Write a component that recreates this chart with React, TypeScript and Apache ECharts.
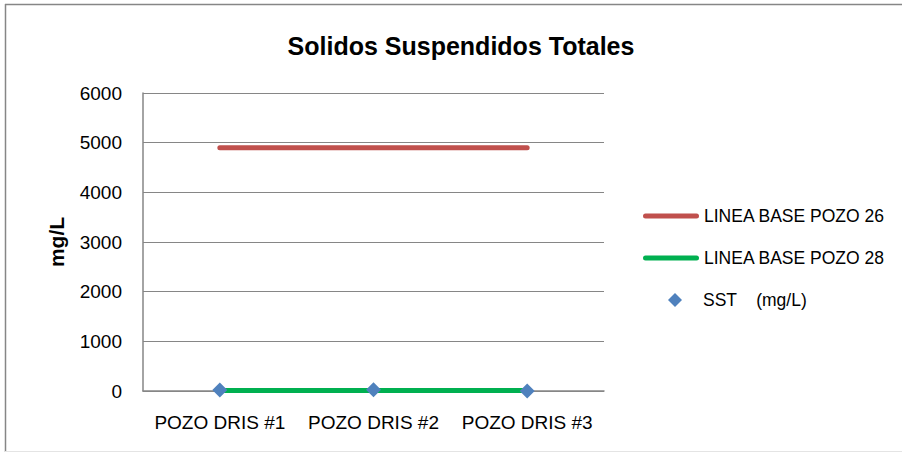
import React, { useEffect, useRef } from "react";
import * as echarts from "echarts";

const categories = ["POZO DRIS #1", "POZO DRIS #2", "POZO DRIS #3"];
const base26 = [4900, 4900, 4900];
const base28 = [10, 10, 10];
const sst = [20, 25, 2];
const yTicks = { min: 0, max: 6000, interval: 1000 };

const FONT = "'Liberation Sans', Arial, sans-serif";
const GRAY = "#868686";
const lineIcon = "path://M2.5,0 H53.5 A2.5,2.5 0 0 1 53.5,5 H2.5 A2.5,2.5 0 0 1 2.5,0 Z";

export default function App() {
  const ref = useRef<HTMLDivElement>(null);
  useEffect(() => {
    document.body.style.margin = "0";
    const chart = echarts.init(ref.current!, null, { renderer: "svg" });
    const legendBase = {
      orient: "vertical",
      padding: 0,
      itemWidth: 56,
      itemGap: 0,
      textStyle: { fontFamily: FONT, fontSize: 17.5, color: "#000", lineHeight: 20 },
    };
    chart.setOption({
      animation: false,
      backgroundColor: "#fff",
      title: {
        text: "Solidos Suspendidos Totales",
        left: 456,
        top: 28,
        textAlign: "center",
        textStyle: { fontFamily: FONT, fontSize: 25, fontWeight: "bold", color: "#000" },
      },
      graphic: [
        { type: "line", shape: { x1: 5.5, y1: 4, x2: 5.5, y2: 452 }, style: { stroke: GRAY, lineWidth: 1.5 } },
        { type: "line", shape: { x1: 5, y1: 4.5, x2: 902, y2: 4.5 }, style: { stroke: GRAY, lineWidth: 1.5 } },
        { type: "line", shape: { x1: 5, y1: 451.5, x2: 902, y2: 451.5 }, style: { stroke: "#e4e4e4", lineWidth: 1 } },
      ],
      grid: { left: 143, right: 298, top: 93, bottom: 62 },
      xAxis: {
        type: "category",
        data: categories,
        boundaryGap: true,
        axisLine: { lineStyle: { color: GRAY, width: 1.5 } },
        axisTick: { show: false },
        axisLabel: { fontFamily: FONT, fontSize: 19, color: "#000", margin: 22, interval: 0 },
      },
      yAxis: {
        type: "value",
        min: yTicks.min,
        max: yTicks.max,
        interval: yTicks.interval,
        name: "mg/L",
        nameLocation: "middle",
        nameRotate: 90,
        nameGap: 76,
        nameTextStyle: { fontFamily: FONT, fontSize: 21, fontWeight: "bold", color: "#000" },
        axisLine: { show: true, lineStyle: { color: GRAY, width: 1.5 } },
        axisTick: { show: false },
        splitLine: { lineStyle: { color: GRAY, width: 1.2 } },
        axisLabel: {
          fontFamily: FONT,
          fontSize: 19,
          color: "#000",
          margin: 21,
          formatter: (v: number) => String(v),
        },
      },
      legend: [
        {
          ...legendBase,
          left: 643,
          top: 206,
          itemHeight: 5,
          data: [{ name: "LINEA BASE POZO 26", icon: lineIcon, itemStyle: { color: "#C0504D" } }],
        },
        {
          ...legendBase,
          left: 643,
          top: 248,
          itemHeight: 5,
          data: [{ name: "LINEA BASE POZO 28", icon: lineIcon, itemStyle: { color: "#00B050" } }],
        },
        {
          ...legendBase,
          left: 668,
          top: 290,
          itemWidth: 14,
          itemHeight: 14,
          textStyle: { ...legendBase.textStyle, padding: [0, 0, 0, 16] },
          data: [{ name: "SST    (mg/L)", icon: "diamond", itemStyle: { color: "#4F81BD", opacity: 1 } }],
        },
      ],
      series: [
        {
          name: "LINEA BASE POZO 26",
          type: "line",
          data: base26,
          showSymbol: false,
          symbol: "none",
          lineStyle: { color: "#C0504D", width: 5, cap: "round" },
          itemStyle: { color: "#C0504D" },
        },
        {
          name: "LINEA BASE POZO 28",
          type: "line",
          data: base28,
          showSymbol: false,
          symbol: "none",
          lineStyle: { color: "#00B050", width: 5, cap: "round" },
          itemStyle: { color: "#00B050" },
        },
        {
          name: "SST    (mg/L)",
          type: "scatter",
          data: sst,
          symbol: "diamond",
          symbolSize: 15,
          itemStyle: { color: "#4F81BD", opacity: 1 },
          z: 5,
        },
      ],
    });
    return () => chart.dispose();
  }, []);
  return <div ref={ref} style={{ width: 902, height: 453 }} />;
}
